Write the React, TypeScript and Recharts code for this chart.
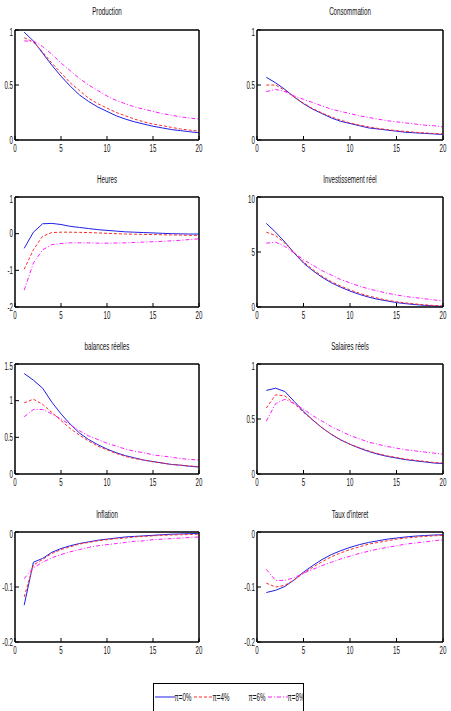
import React from "react";
import { LineChart, Line, XAxis, YAxis, ReferenceArea } from "recharts";

// Periods after the shock
const periods = [1, 2, 3, 4, 5, 6, 7, 8, 9, 10, 11, 12, 13, 14, 15, 16, 17, 18, 19, 20];
const xTicks = [0, 5, 10, 15, 20];

// Production
const productionPi0 = [0.98, 0.9, 0.79, 0.68, 0.58, 0.49, 0.41, 0.35, 0.3, 0.26, 0.22, 0.19, 0.165, 0.145, 0.125, 0.11, 0.095, 0.085, 0.075, 0.066];
const productionPi4 = [0.93, 0.89, 0.8, 0.7, 0.61, 0.52, 0.45, 0.38, 0.33, 0.29, 0.25, 0.22, 0.19, 0.165, 0.145, 0.13, 0.115, 0.1, 0.09, 0.08];
const productionPi8 = [0.9, 0.9, 0.85, 0.78, 0.7, 0.63, 0.56, 0.5, 0.45, 0.4, 0.36, 0.33, 0.3, 0.28, 0.26, 0.24, 0.225, 0.21, 0.2, 0.19];

// Consommation
const consoPi0 = [0.57, 0.52, 0.46, 0.39, 0.33, 0.28, 0.24, 0.2, 0.17, 0.15, 0.13, 0.11, 0.1, 0.09, 0.08, 0.07, 0.065, 0.06, 0.055, 0.05];
const consoPi4 = [0.5, 0.5, 0.45, 0.39, 0.335, 0.285, 0.245, 0.21, 0.18, 0.155, 0.135, 0.12, 0.105, 0.095, 0.085, 0.078, 0.07, 0.065, 0.06, 0.055];
const consoPi8 = [0.44, 0.46, 0.44, 0.4, 0.37, 0.34, 0.31, 0.28, 0.26, 0.24, 0.22, 0.205, 0.19, 0.175, 0.165, 0.155, 0.145, 0.135, 0.13, 0.12];

// Heures
const heuresPi0 = [-0.4, 0.04, 0.27, 0.28, 0.25, 0.2, 0.17, 0.14, 0.11, 0.09, 0.07, 0.05, 0.04, 0.03, 0.02, 0.01, 0.0, -0.005, -0.01, -0.01];
const heuresPi4 = [-0.97, -0.44, -0.07, 0.03, 0.04, 0.04, 0.035, 0.03, 0.02, 0.01, 0.0, -0.01, -0.015, -0.02, -0.025, -0.03, -0.035, -0.04, -0.045, -0.05];
const heuresPi8 = [-1.54, -0.8, -0.44, -0.3, -0.27, -0.25, -0.25, -0.25, -0.26, -0.26, -0.255, -0.25, -0.24, -0.23, -0.22, -0.21, -0.195, -0.18, -0.16, -0.14];

// Investissement réel
const investPi0 = [7.6, 6.8, 5.9, 4.9, 4.0, 3.3, 2.7, 2.2, 1.8, 1.45, 1.15, 0.9, 0.7, 0.55, 0.4, 0.3, 0.22, 0.15, 0.1, 0.05];
const investPi4 = [6.8, 6.5, 5.8, 4.95, 4.1, 3.4, 2.8, 2.3, 1.9, 1.55, 1.25, 1.0, 0.8, 0.62, 0.48, 0.37, 0.28, 0.2, 0.14, 0.1];
const investPi8 = [5.8, 5.9, 5.5, 4.9, 4.3, 3.8, 3.3, 2.9, 2.5, 2.2, 1.9, 1.65, 1.45, 1.25, 1.1, 0.95, 0.85, 0.75, 0.65, 0.55];

// Balances réelles
const balancesPi0 = [1.37, 1.28, 1.17, 0.98, 0.82, 0.68, 0.56, 0.47, 0.4, 0.34, 0.29, 0.25, 0.22, 0.19, 0.17, 0.15, 0.13, 0.12, 0.105, 0.095];
const balancesPi4 = [0.97, 1.02, 0.95, 0.84, 0.73, 0.62, 0.53, 0.45, 0.38, 0.33, 0.28, 0.24, 0.21, 0.19, 0.165, 0.15, 0.13, 0.12, 0.11, 0.1];
const balancesPi8 = [0.78, 0.88, 0.88, 0.82, 0.75, 0.67, 0.59, 0.52, 0.47, 0.42, 0.38, 0.34, 0.31, 0.29, 0.26, 0.245, 0.23, 0.21, 0.2, 0.19];

// Salaires réels
const salairesPi0 = [0.76, 0.78, 0.75, 0.66, 0.57, 0.49, 0.42, 0.36, 0.31, 0.27, 0.235, 0.205, 0.18, 0.16, 0.145, 0.13, 0.12, 0.11, 0.1, 0.095];
const salairesPi4 = [0.6, 0.72, 0.71, 0.64, 0.56, 0.49, 0.42, 0.36, 0.31, 0.27, 0.24, 0.21, 0.185, 0.165, 0.15, 0.135, 0.125, 0.115, 0.105, 0.1];
const salairesPi8 = [0.48, 0.64, 0.68, 0.64, 0.59, 0.53, 0.48, 0.43, 0.39, 0.35, 0.32, 0.29, 0.27, 0.25, 0.235, 0.22, 0.21, 0.2, 0.19, 0.18];

// Inflation
const inflationPi0 = [-0.133, -0.055, -0.048, -0.037, -0.03, -0.025, -0.021, -0.018, -0.015, -0.013, -0.011, -0.009, -0.008, -0.007, -0.006, -0.005, -0.004, -0.0035, -0.003, -0.0025];
const inflationPi4 = [-0.118, -0.06, -0.05, -0.039, -0.032, -0.027, -0.022, -0.019, -0.016, -0.014, -0.012, -0.011, -0.009, -0.008, -0.007, -0.006, -0.0055, -0.005, -0.0045, -0.004];
const inflationPi8 = [-0.085, -0.065, -0.055, -0.047, -0.041, -0.036, -0.032, -0.028, -0.025, -0.023, -0.021, -0.019, -0.017, -0.016, -0.014, -0.013, -0.012, -0.011, -0.01, -0.009];

// Taux d'interet
const tauxPi0 = [-0.11, -0.106, -0.099, -0.087, -0.073, -0.061, -0.05, -0.041, -0.034, -0.028, -0.023, -0.019, -0.016, -0.013, -0.011, -0.009, -0.0075, -0.0065, -0.0055, -0.005];
const tauxPi4 = [-0.093, -0.1, -0.097, -0.087, -0.075, -0.064, -0.054, -0.045, -0.038, -0.032, -0.027, -0.022, -0.019, -0.016, -0.013, -0.011, -0.0095, -0.008, -0.007, -0.006];
const tauxPi8 = [-0.068, -0.088, -0.088, -0.083, -0.075, -0.068, -0.061, -0.055, -0.049, -0.044, -0.039, -0.035, -0.031, -0.028, -0.025, -0.022, -0.02, -0.018, -0.016, -0.014];

const legendLabels = ["π=0%", "π=4%", "π=6%", "π=8%"];

const BLUE = "#1f1fe6";
const RED = "#ff2a2a";
const MAGENTA = "#ff1aff";
const FONT = "'Liberation Sans', Arial, sans-serif";
const SQUEEZE = 0.62;

const YW = 30;
const XH = 22;
const MT = 6;
const MR = 8;
const BOX_H = 110;

type PanelProps = {
  title: string;
  left: number;
  top: number;
  width: number;
  titleY: number;
  domain: [number, number];
  ticks: number[];
  pi0: number[];
  pi4: number[];
  pi8: number[];
};

const NarrowTick = (props: any) => {
  const { x, y, payload, textAnchor, dy } = props;
  return (
    <g transform={`translate(${x},${y})`}>
      <text
        transform={`scale(${SQUEEZE},1)`}
        textAnchor={textAnchor}
        dy={dy}
        fontSize={10}
        fontFamily={FONT}
        fill="#111"
      >
        {payload.value}
      </text>
    </g>
  );
};

function Panel({ title, left, top, width, titleY, domain, ticks, pi0, pi4, pi8 }: PanelProps) {
  const rows = periods.map((t, i) => ({ t, pi0: pi0[i], pi4: pi4[i], pi8: pi8[i] }));
  return (
    <>
      <div
        style={{
          position: "absolute",
          left: left + width / 2 - 100,
          width: 200,
          top: titleY - 7,
          textAlign: "center",
          fontFamily: FONT,
          fontSize: 10,
          lineHeight: "14px",
          transform: `scaleX(${SQUEEZE})`,
          color: "#111",
        }}
      >
        {title}
      </div>
      <div style={{ position: "absolute", left: left - YW, top: top - MT - 1 }}>
        <LineChart
          width={YW + width + 1 + MR}
          height={MT + 1 + BOX_H + XH}
          data={rows}
          margin={{ top: MT, right: MR, left: 0, bottom: 0 }}
        >
          <XAxis
            dataKey="t"
            type="number"
            domain={[0, 20]}
            ticks={xTicks}
            height={XH}
            tickSize={-4}
            tickMargin={9}
            stroke="#000"
            tick={(p: any) => <NarrowTick {...p} dy="0.71em" />}
          />
          <XAxis
            xAxisId="top"
            orientation="top"
            dataKey="t"
            type="number"
            domain={[0, 20]}
            ticks={xTicks}
            height={1}
            tickSize={-4}
            stroke="#000"
            tick={false}
          />
          <YAxis
            type="number"
            domain={domain}
            ticks={ticks}
            width={YW}
            tickSize={-4}
            tickMargin={6}
            stroke="#000"
            allowDataOverflow
            tick={(p: any) => <NarrowTick {...p} dy="0.35em" />}
          />
          <YAxis
            yAxisId="right"
            orientation="right"
            type="number"
            domain={domain}
            ticks={ticks}
            width={1}
            tickSize={-4}
            stroke="#000"
            tick={false}
          />
          {/* plot frame */}
          <ReferenceArea
            x1={0}
            x2={20}
            y1={domain[0]}
            y2={domain[1]}
            fill="none"
            fillOpacity={0}
            stroke="#000"
            strokeWidth={1}
          />
          <Line type="linear" dataKey="pi0" stroke={BLUE} strokeWidth={1} dot={false} isAnimationActive={false} />
          <Line type="linear" dataKey="pi4" stroke={RED} strokeWidth={1} strokeDasharray="3 2" dot={false} isAnimationActive={false} />
          <Line type="linear" dataKey="pi8" stroke={MAGENTA} strokeWidth={1} strokeDasharray="4 2 1 2" dot={false} isAnimationActive={false} />
        </LineChart>
      </div>
    </>
  );
}

function LegendBox() {
  const items = [
    { label: legendLabels[0], color: BLUE, dash: undefined, x0: 2, x1: 22, tx: 30 },
    { label: legendLabels[1], color: RED, dash: "3 2", x0: 41, x1: 61, tx: 68 },
    { label: legendLabels[2], color: "none", dash: undefined, x0: 80, x1: 96, tx: 104 },
    { label: legendLabels[3], color: MAGENTA, dash: "4 2 1 2", x0: 115, x1: 135, tx: 143 },
  ];
  return (
    <svg style={{ position: "absolute", left: 153, top: 683 }} width={151} height={40}>
      <rect x={0.5} y={0.5} width={150} height={38} fill="#fff" stroke="#000" strokeWidth={1} />
      {items.map((it) => (
        <g key={it.label}>
          {it.color !== "none" && (
            <line x1={it.x0} x2={it.x1} y1={14} y2={14} stroke={it.color} strokeDasharray={it.dash} strokeWidth={1} />
          )}
          <g transform={`translate(${it.tx},14)`}>
            <text transform={`scale(${SQUEEZE},1)`} textAnchor="middle" dy="0.35em" fontSize={10} fontFamily={FONT} fill="#111">
              {it.label}
            </text>
          </g>
        </g>
      ))}
    </svg>
  );
}

export default function App() {
  const L = { left: 15, width: 184 };
  const R = { left: 257, width: 186 };
  return (
    <div style={{ position: "absolute", left: 0, top: 0, width: 451, height: 711, background: "#fff", overflow: "hidden" }}>
      <Panel title="Production" {...L} top={30} titleY={12} domain={[0, 1]} ticks={[0, 0.5, 1]} pi0={productionPi0} pi4={productionPi4} pi8={productionPi8} />
      <Panel title="Consommation" {...R} top={30} titleY={12} domain={[0, 1]} ticks={[0, 0.5, 1]} pi0={consoPi0} pi4={consoPi4} pi8={consoPi8} />
      <Panel title="Heures" {...L} top={197} titleY={180} domain={[-2, 1]} ticks={[-2, -1, 0, 1]} pi0={heuresPi0} pi4={heuresPi4} pi8={heuresPi8} />
      <Panel title="Investissement réel" {...R} top={197} titleY={180} domain={[0, 10]} ticks={[0, 5, 10]} pi0={investPi0} pi4={investPi4} pi8={investPi8} />
      <Panel title="balances réelles" {...L} top={364} titleY={347} domain={[0, 1.5]} ticks={[0, 0.5, 1, 1.5]} pi0={balancesPi0} pi4={balancesPi4} pi8={balancesPi8} />
      <Panel title="Salaires réels" {...R} top={364} titleY={347} domain={[0, 1]} ticks={[0, 0.5, 1]} pi0={salairesPi0} pi4={salairesPi4} pi8={salairesPi8} />
      <Panel title="Inflation" {...L} top={532} titleY={515} domain={[-0.2, 0]} ticks={[-0.2, -0.1, 0]} pi0={inflationPi0} pi4={inflationPi4} pi8={inflationPi8} />
      <Panel title="Taux d'interet" {...R} top={532} titleY={515} domain={[-0.2, 0]} ticks={[-0.2, -0.1, 0]} pi0={tauxPi0} pi4={tauxPi4} pi8={tauxPi8} />
      <LegendBox />
    </div>
  );
}
